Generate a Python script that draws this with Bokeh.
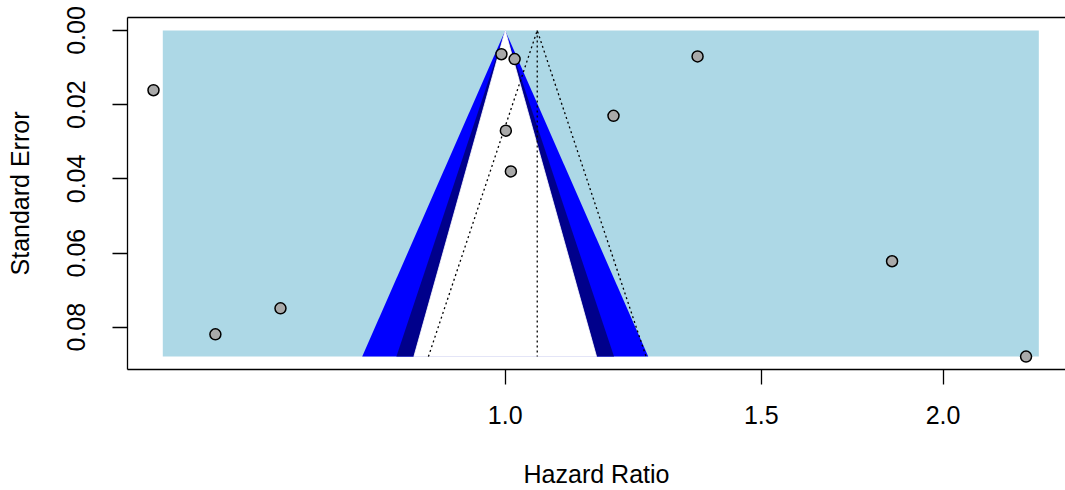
import numpy as np
from bokeh.plotting import figure
from bokeh.models import Range1d, FixedTicker, LinearAxis, PrintfTickFormatter
from bokeh.embed import file_html
from bokeh.resources import INLINE

# ---- data ----
hazard_ratio = [0.573, 0.632, 0.7006, 0.994, 1.015, 1.001, 1.009, 1.187, 1.356, 1.845, 2.281]
std_error = [0.0161, 0.0819, 0.0749, 0.0064, 0.0077, 0.0270, 0.0380, 0.0230, 0.0070, 0.0622, 0.0879]
pooled_hr = 1.052
shade_xlim = [0.5815, 2.3276]
contour_z = [2.576, 1.960, 1.645]          # 99%, 95%, 90% levels
contour_colors = ["blue", "darkblue", "white"]
x_ticks = [1.0, 1.5, 2.0]
y_ticks = [0.00, 0.02, 0.04, 0.06, 0.08]

FONT = "Liberation Sans"
se_max = max(std_error)

p = figure(width=1065, height=490, x_axis_type="log",
           x_range=Range1d(0.5499, 2.428), y_range=Range1d(0.09138, -0.0035),
           output_backend="svg", toolbar_location=None,
           min_border_left=127, min_border_right=0, min_border_top=17, min_border_bottom=121,
           x_axis_label="Hazard Ratio", y_axis_label="Standard Error")
p.outline_line_color = None
p.grid.visible = False
p.background_fill_color = "white"
p.border_fill_color = "white"

# background shading
p.quad(left=shade_xlim[0], right=shade_xlim[1], top=0, bottom=se_max,
       fill_color="lightblue", line_color=None)

# contour triangles (centered at HR = 1)
for z, c in zip(contour_z, contour_colors):
    xs = [np.exp(-z * se_max), 1.0, np.exp(z * se_max)]
    ys = [se_max, 0.0, se_max]
    p.patch(xs, ys, fill_color=c, line_color=c if c == "white" else None, line_width=0.8)

# pseudo-confidence funnel around pooled estimate
lest = np.log(pooled_hr)
p.line([np.exp(lest - 1.96 * se_max), pooled_hr, np.exp(lest + 1.96 * se_max)],
       [se_max, 0.0, se_max], line_color="black", line_width=1.3, line_dash="2 3")
p.line([pooled_hr, pooled_hr], [0.0, se_max], line_color="black", line_width=1.3, line_dash="2 3")

# studies
p.scatter(hazard_ratio, std_error, size=11, fill_color="darkgray",
          line_color="black", line_width=1.5)

# axes styling
for ax in (p.xaxis[0], p.yaxis[0]):
    ax.major_tick_out = 15
    ax.major_tick_in = 0
    ax.minor_tick_out = 0
    ax.minor_tick_in = 0
    ax.axis_line_color = "black"
    ax.axis_line_width = 1.3
    ax.major_tick_line_color = "black"
    ax.major_tick_line_width = 1.3
    ax.major_label_text_font = FONT
    ax.major_label_text_font_size = "25px"
    ax.major_label_text_color = "black"
    ax.axis_label_text_font = FONT
    ax.axis_label_text_font_size = "25px"
    ax.axis_label_text_font_style = "normal"
    ax.axis_label_text_color = "black"

p.xaxis[0].ticker = FixedTicker(ticks=x_ticks)
p.xaxis[0].formatter = PrintfTickFormatter(format="%.1f")
p.xaxis[0].major_label_standoff = 21
p.xaxis[0].axis_label_standoff = 33

p.yaxis[0].ticker = FixedTicker(ticks=y_ticks)
p.yaxis[0].formatter = PrintfTickFormatter(format="%.2f")
p.yaxis[0].major_label_orientation = "vertical"
p.yaxis[0].major_label_standoff = 27
p.yaxis[0].axis_label_standoff = 31

# top border line
top = LinearAxis(ticker=FixedTicker(ticks=[]), major_tick_out=0, major_tick_in=0,
                 minor_tick_out=0, minor_tick_in=0, axis_line_color="black",
                 axis_line_width=1.3, major_label_text_font_size="0px")
p.add_layout(top, "above")

open("out.html", "w").write(file_html(p, INLINE))
